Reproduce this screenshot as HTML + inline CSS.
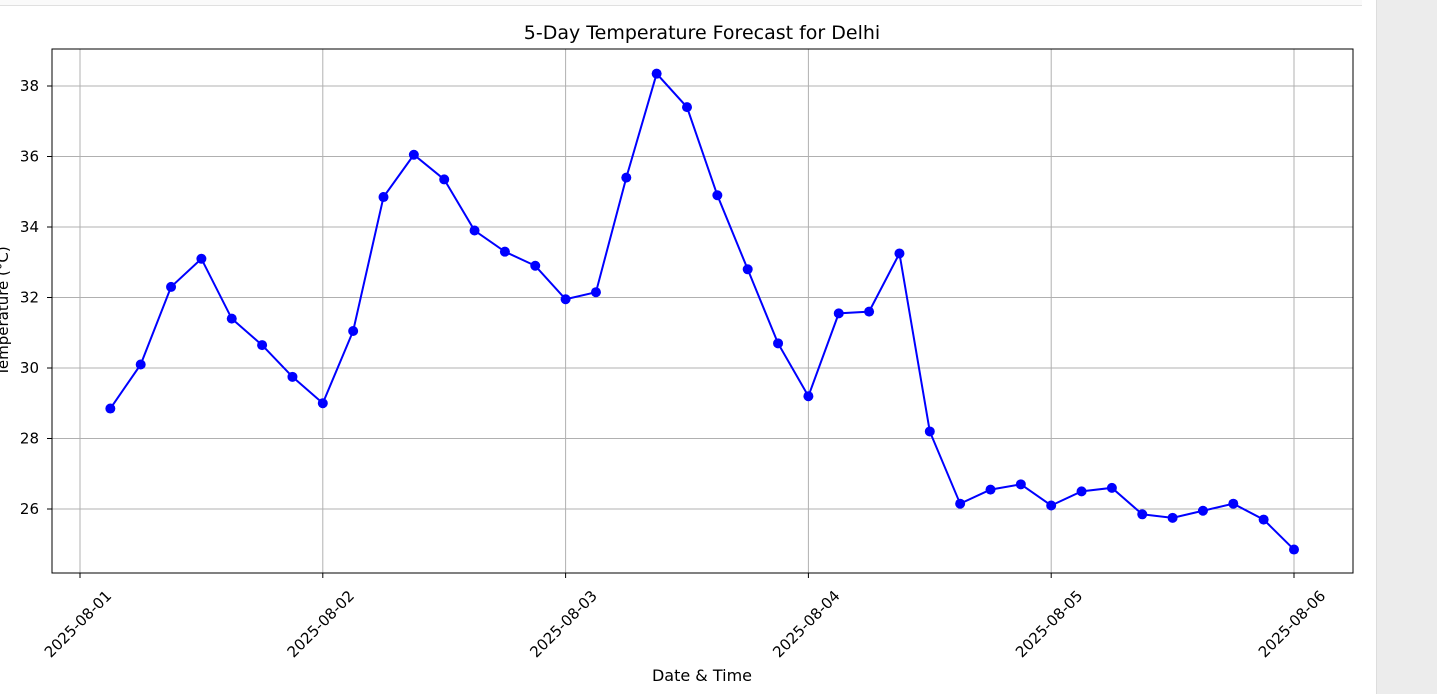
<!DOCTYPE html>
<html><head><meta charset="utf-8">
<style>
body{margin:0;width:1437px;height:694px;overflow:hidden;background:#fff;font-family:"DejaVu Sans","Liberation Sans",sans-serif;position:relative}
#topbar{position:absolute;left:0;top:0;width:1362px;height:5px;border-bottom:1px solid #e0e0e0;background:#fafafa}
#sidepanel{position:absolute;left:1376px;top:0;width:61px;height:694px;background:#ececec;border-left:1px solid #ddd}
svg{position:absolute;left:0;top:0}
svg text{font-family:"DejaVu Sans","Liberation Sans",sans-serif}
</style></head><body>
<div id="topbar"></div>
<div id="sidepanel"></div>
<svg id="chart" width="1376" height="694"></svg>
<script>
const dayLabels=["2025-08-01","2025-08-02","2025-08-03","2025-08-04","2025-08-05","2025-08-06"];
const yTicks=[26,28,30,32,34,36,38];
const hoursOffset=[3,6,9,12,15,18,21,24,27,30,33,36,39,42,45,48,51,54,57,60,63,66,69,72,75,78,81,84,87,90,93,96,99,102,105,108,111,114,117,120];
const temps=[28.85,30.1,32.3,33.1,31.4,30.65,29.75,29.0,31.05,34.85,36.05,35.35,33.9,33.3,32.9,31.95,32.15,35.4,38.35,37.4,34.9,32.8,30.7,29.2,31.55,31.6,33.25,28.2,26.15,26.55,26.7,26.1,26.5,26.6,25.85,25.75,25.95,26.15,25.7,24.85];

const NS="http://www.w3.org/2000/svg";
const svg=document.getElementById('chart');
const L=52,R=1353,T=49,B=573;
const xs=h=>80+h*(1214/120);
const ys=v=>86+(38-v)*35.25;
function mk(tag,attrs,parent){const e=document.createElementNS(NS,tag);for(const k in attrs)e.setAttribute(k,attrs[k]);(parent||svg).appendChild(e);return e;}

dayLabels.forEach((d,i)=>{
  const x=xs(i*24);
  const g=mk('line',{x1:x,x2:x,y1:T,y2:B,stroke:'#b0b0b0','stroke-width':1});
  
  
  mk('line',{x1:x,x2:x,y1:B,y2:B+5,stroke:'#000'});
  const cx=x-2,cy=624;
  const t=mk('text',{x:cx,y:cy,'font-size':15,'text-anchor':'middle','dominant-baseline':'central',transform:`rotate(-45 ${cx} ${cy})`,fill:'#000'});
  t.textContent=d;
  
  
});
yTicks.forEach(v=>{
  const y=ys(v);
  const g=mk('line',{x1:L,x2:R,y1:y,y2:y,stroke:'#b0b0b0','stroke-width':1});
  
  
  mk('line',{x1:L-5,x2:L,y1:y,y2:y,stroke:'#000'});
  const t=mk('text',{x:L-13,y:y+5,'font-size':15,'text-anchor':'end',fill:'#000'});
  t.textContent=v;
  
  
});
const pts=temps.map((v,i)=>xs(hoursOffset[i])+','+ys(v)).join(' ');
const line=mk('polyline',{points:pts,fill:'none',stroke:'#0000ff','stroke-width':2});


temps.forEach((v,i)=>{
  const c=mk('circle',{cx:xs(hoursOffset[i]),cy:ys(v),r:5,fill:'#0000ff'});
  
  
});
const f=mk('rect',{x:L,y:T,width:R-L,height:B-T,fill:'none',stroke:'#000','stroke-width':1});


const title=mk('text',{x:702,y:39,'font-size':19,'text-anchor':'middle',fill:'#000'});
title.textContent='5-Day Temperature Forecast for Delhi';


const xl=mk('text',{x:702,y:681,'font-size':16,'text-anchor':'middle',fill:'#000'});
xl.textContent='Date & Time';


const yl=mk('text',{x:3,y:311,'font-size':15,'text-anchor':'middle','dominant-baseline':'central',transform:'rotate(-90 3 311)',fill:'#000'});
yl.textContent='Temperature (°C)';


</script>
</body></html>
